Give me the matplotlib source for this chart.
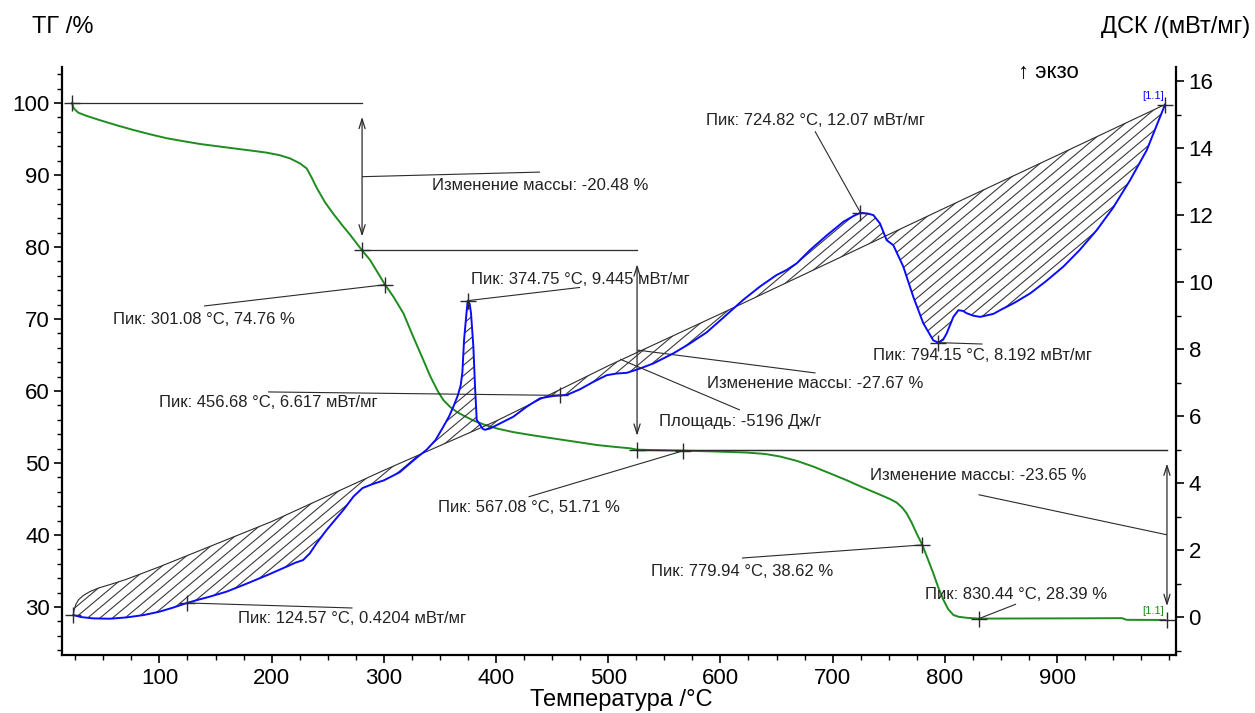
import numpy as np
import matplotlib as mpl

mpl.use("Agg")
import matplotlib.pyplot as plt
from matplotlib.patches import Polygon
from matplotlib.collections import LineCollection
from matplotlib.ticker import MultipleLocator

plt.rcParams["font.family"] = ["Liberation Sans", "DejaVu Sans"]

# TG curve, mass %
tg_temp = [22.1, 22.8, 23.9, 27.7, 35.2, 47.1, 61.9, 76.7, 91.6, 106.5,
           121.0, 136.2, 151.0, 165.9, 181.0, 195.6, 207.0, 216.4, 225.3, 231.3,
           235.8, 240.2, 247.6, 255.0, 262.5, 269.9, 280.6, 287.7, 301.08, 308.5,
           317.4, 326.3, 335.2, 341.2, 348.0, 353.0, 359.0, 365.0, 372.0, 379.8,
           390.0, 400.6, 415.0, 430.3, 445.0, 460.0, 475.0, 489.7, 505.0, 519.4,
           525.7, 545.0, 567.08, 595.0, 623.4, 640.0, 653.1, 668.0, 682.8, 697.0,
           712.6, 727.0, 742.2, 751.0, 757.1, 762.0, 766.0, 770.5, 774.9, 779.94,
           784.5, 789.7, 794.0, 798.7, 803.0, 807.6, 812.0, 819.5, 830.44, 900.0,
           958.0, 962.0, 996.3]
tg_mass = [100.0, 99.6, 99.2, 98.65, 98.2, 97.6, 96.9, 96.25, 95.65, 95.1,
           94.7, 94.3, 94.0, 93.7, 93.4, 93.1, 92.75, 92.3, 91.6, 90.9,
           89.6, 88.2, 86.2, 84.6, 83.1, 81.7, 79.52, 78.2, 74.76, 73.1,
           70.8, 67.5, 64.3, 62.1, 60.0, 58.75, 57.8, 57.1, 56.5, 55.9,
           55.3, 54.8, 54.3, 53.9, 53.55, 53.2, 52.85, 52.5, 52.25, 52.04,
           51.85, 51.78, 51.71, 51.6, 51.45, 51.25, 50.9, 50.3, 49.5, 48.6,
           47.6, 46.6, 45.6, 45.0, 44.5, 43.8, 43.0, 41.7, 40.2, 38.62,
           36.8, 34.7, 32.8, 31.0, 29.7, 28.9, 28.65, 28.5, 28.39, 28.42,
           28.45, 28.22, 28.2]

# DSC curve, mW/mg
dsc_temp = [23.3, 30.0, 41.0, 56.0, 71.0, 86.0, 100.0, 112.0, 124.57, 135.0,
            145.0, 160.0, 178.0, 196.0, 213.0, 221.0, 228.0, 234.0, 240.0, 249.0,
            257.0, 264.0, 273.0, 281.0, 290.0, 300.0, 314.0, 329.0, 338.0, 346.0,
            353.0, 358.0, 362.0, 366.0, 368.5, 370.0, 371.5, 373.9, 374.75, 376.5,
            377.7, 379.8, 381.3, 382.8, 385.8, 388.0, 390.2, 394.7, 403.6, 415.4,
            427.4, 439.2, 451.1, 456.68, 463.0, 474.9, 486.7, 498.7, 507.6, 516.5,
            526.8, 540.2, 558.0, 572.0, 587.8, 603.0, 620.0, 635.0, 650.0, 659.0,
            668.0, 680.0, 695.0, 709.6, 718.5, 724.82, 731.8, 736.3, 742.2, 748.2,
            754.1, 763.0, 771.9, 780.8, 789.7, 794.15, 798.5, 801.7, 807.6, 812.1,
            816.0, 819.5, 825.0, 831.4, 843.3, 849.2, 862.0, 876.0, 890.0, 905.6,
            920.0, 935.4, 950.0, 965.1, 980.0, 996.3]
dsc_val = [0.06, 0.0, -0.04, -0.05, -0.01, 0.06, 0.16, 0.28, 0.4204, 0.52,
           0.61, 0.76, 1.00, 1.25, 1.50, 1.62, 1.70, 1.90, 2.20, 2.60,
           2.92, 3.20, 3.60, 3.85, 3.97, 4.08, 4.32, 4.75, 4.99, 5.28,
           5.68, 5.98, 6.28, 6.62, 6.92, 7.30, 8.27, 9.16, 9.445, 9.35,
           9.07, 8.07, 6.87, 5.88, 5.74, 5.62, 5.59, 5.63, 5.78, 5.98,
           6.28, 6.53, 6.60, 6.617, 6.63, 6.80, 7.02, 7.22, 7.27, 7.29,
           7.40, 7.57, 7.87, 8.15, 8.50, 8.95, 9.46, 9.86, 10.21, 10.36,
           10.56, 10.96, 11.40, 11.80, 11.97, 12.07, 12.04, 12.00, 11.75, 11.25,
           11.10, 10.46, 9.56, 8.77, 8.26, 8.192, 8.28, 8.47, 8.96, 9.16,
           9.14, 9.07, 9.00, 8.96, 9.05, 9.16, 9.38, 9.66, 10.02, 10.46,
           10.95, 11.55, 12.22, 13.04, 13.94, 15.30]

# integration baseline of the DSC area
base_temp = [23.3, 24.0, 25.5, 28.0, 32.0, 38.0, 46.0, 56.0, 70.0, 100.0,
             200.0, 300.0, 400.0, 500.0, 600.0, 700.0, 800.0, 900.0, 996.3]
base_val = [0.06, 0.22, 0.38, 0.52, 0.64, 0.76, 0.87, 0.97, 1.12, 1.50,
            2.85, 4.38, 5.85, 7.50, 9.05, 10.63, 12.21, 13.78, 15.30]
area_value = -5196

# mass loss steps
step_temp = [280.6, 525.7, 998.0]
step_top = [100.0, 79.52, 51.85]
step_bottom = [79.52, 51.85, 28.20]
step_change = [-20.48, -27.67, -23.65]

# marked points
tg_peak_temp = [301.08, 567.08, 779.94, 830.44]
tg_peak_mass = [74.76, 51.71, 38.62, 28.39]
dsc_peak_temp = [124.57, 374.75, 456.68, 724.82, 794.15]
dsc_peak_val = [0.4204, 9.445, 6.617, 12.07, 8.192]

# label layout: (text x, text y, leader end y)
step_label_pos = [(439.2, 88.5, 90.4), (684.8, 61.1, 62.5), (830.0, 48.2, 45.6)]
tg_label_pos = [(139.7, 69.86, 71.8), (429.0, 43.75, 45.3),
                (619.2, 35.0, 36.8), (863.5, 31.8, 30.4)]
dsc_label_pos = [(272.1, -0.03, 0.27), (474.9, 10.09, 9.84), (196.8, 6.39, 6.72),
                 (684.3, 14.81, 14.5), (833.6, 7.82, 8.15)]
area_label_pos = (617.4, 5.85, 6.18, 510.5, 7.70)

GREEN = "#1e8c1e"
BLUE = "#0a0aff"
INK = "#2b2b2b"
LABEL_FS = 12
TICK_FS = 16
TITLE_FS = 17


def hatch_between(ax, fig, xs, ys, angle=40.0, spacing=8.0):
    """Hatch a closed region with parallel lines drawn in screen space."""
    poly = Polygon(np.column_stack([xs, ys]), closed=True, facecolor="none",
                   edgecolor="none")
    ax.add_patch(poly)
    box = ax.get_position()
    w = box.width * fig.get_figwidth() * fig.dpi
    h = box.height * fig.get_figheight() * fig.dpi
    th = np.deg2rad(angle)
    d = np.array([np.cos(th), np.sin(th)])
    n = np.array([-np.sin(th), np.cos(th)])
    diag = np.hypot(w, h)
    segs = []
    for c in np.arange(-w * np.sin(th) - spacing, h * np.cos(th) + spacing, spacing):
        p0 = n * c - d * 2 * diag
        p1 = n * c + d * 2 * diag
        segs.append([(p0[0] / w, p0[1] / h), (p1[0] / w, p1[1] / h)])
    lc = LineCollection(segs, colors="#3a3a3a", linewidths=0.8,
                        transform=ax.transAxes)
    lc.set_clip_path(poly)
    ax.add_collection(lc)


def leader(ax, x0, y0, x1, y1):
    ax.plot([x0, x1], [y0, y1], color=INK, lw=0.8, solid_capstyle="butt")


def cross(ax, x, y):
    ax.plot(x, y, ls="none", marker="+", ms=12, mew=1.0, color=INK)


fig = plt.figure(figsize=(12.55, 7.13), dpi=100)
ax = fig.add_axes([0.0498, 0.0813, 0.8873, 0.8252])
ax2 = ax.twinx()

ax.set_xlim(13.6, 1006.1)
ax.set_ylim(23.33, 105.04)
ax2.set_ylim(-1.134, 16.43)

# TG
ax.plot(tg_temp, tg_mass, color=GREEN, lw=1.4)

# mass steps with double arrows
x_start = tg_temp[0]
for i, (t, top, bot) in enumerate(zip(step_temp, step_top, step_bottom)):
    left = x_start if i == 0 else step_temp[i - 1]
    ax.plot([left, t], [top, top], color=INK, lw=0.9)
    ax.annotate("", xy=(t, bot), xytext=(t, top),
                arrowprops=dict(arrowstyle="<->,head_length=0.7,head_width=0.22",
                                color=INK, lw=0.9, shrinkA=10, shrinkB=10))
    tx, ty, ly = step_label_pos[i]
    leader(ax, t, (top + bot) / 2, tx, ly)
    ax.text(tx, ty, f"Изменение массы: {step_change[i]:.2f} %", ha="center",
            va="center", fontsize=LABEL_FS, color="#222222")
ax.plot([step_temp[-2], step_temp[-1]], [step_top[-1], step_top[-1]],
        color=INK, lw=0.9)
cross(ax, x_start, step_top[0])
for t, bot in zip(step_temp, step_bottom):
    cross(ax, t, bot)

for t, m, (tx, ty, ly) in zip(tg_peak_temp, tg_peak_mass, tg_label_pos):
    cross(ax, t, m)
    leader(ax, t, m, tx, ly)
    ax.text(tx, ty, f"Пик: {t:.2f} °C, {m:.4g} %", ha="center", va="center",
            fontsize=LABEL_FS, color="#222222")

# DSC with hatched area against the baseline
region_x = np.concatenate([dsc_temp, base_temp[::-1]])
region_y = np.concatenate([dsc_val, base_val[::-1]])
hatch_between(ax2, fig, region_x, region_y)
ax2.plot(base_temp, base_val, color=INK, lw=0.8)
ax2.plot(dsc_temp, dsc_val, color=BLUE, lw=1.4)
cross(ax2, dsc_temp[0], dsc_val[0])
cross(ax2, dsc_temp[-1], dsc_val[-1])

for t, v, (tx, ty, ly) in zip(dsc_peak_temp, dsc_peak_val, dsc_label_pos):
    cross(ax2, t, v)
    leader(ax2, t, v, tx, ly)
    ax2.text(tx, ty, f"Пик: {t:.2f} °C, {v:.4g} мВт/мг", ha="center",
             va="center", fontsize=LABEL_FS, color="#222222")

ax_x, ax_y, ax_ly, ax_x0, ax_y0 = area_label_pos
leader(ax2, ax_x0, ax_y0, ax_x, ax_ly)
ax2.text(ax_x, ax_y, f"Площадь: {area_value} Дж/г", ha="center", va="center",
         fontsize=LABEL_FS, color="#222222")

# axes styling
for a in (ax, ax2):
    a.spines["top"].set_visible(False)
    for s in ("left", "right", "bottom"):
        a.spines[s].set_linewidth(1.6)
ax.spines["right"].set_visible(False)
ax2.spines["left"].set_visible(False)
ax2.spines["bottom"].set_visible(False)

ax.xaxis.set_major_locator(MultipleLocator(100))
ax.xaxis.set_minor_locator(MultipleLocator(25))
ax.yaxis.set_major_locator(MultipleLocator(10))
ax.yaxis.set_minor_locator(MultipleLocator(2))
ax2.yaxis.set_major_locator(MultipleLocator(2))
ax2.yaxis.set_minor_locator(MultipleLocator(1))
ax.set_xticks([100, 200, 300, 400, 500, 600, 700, 800, 900])
for a in (ax, ax2):
    a.tick_params(which="major", direction="out", length=6, width=1.2,
                  labelsize=TICK_FS, pad=3)
    a.tick_params(which="minor", direction="out", length=3.5, width=1.0)
ax.set_yticks([30, 40, 50, 60, 70, 80, 90, 100])

fig.text(0.0255, 0.962, "ТГ /%", fontsize=TITLE_FS, ha="left", va="center")
fig.text(0.996, 0.962, "ДСК /(мВт/мг)", fontsize=TITLE_FS, ha="right",
         va="center")
fig.text(0.495, 0.018, "Температура /°C", fontsize=TITLE_FS, ha="center",
         va="center")
fig.text(0.811, 0.899, "↑ экзо", fontsize=16, ha="left", va="center")
fig.text(0.9187, 0.8654, "[1.1]", fontsize=8, color=BLUE, ha="center",
         va="center")
fig.text(0.9187, 0.143, "[1.1]", fontsize=8, color=GREEN, ha="center",
         va="center")

fig.savefig("out.png", dpi=100)
